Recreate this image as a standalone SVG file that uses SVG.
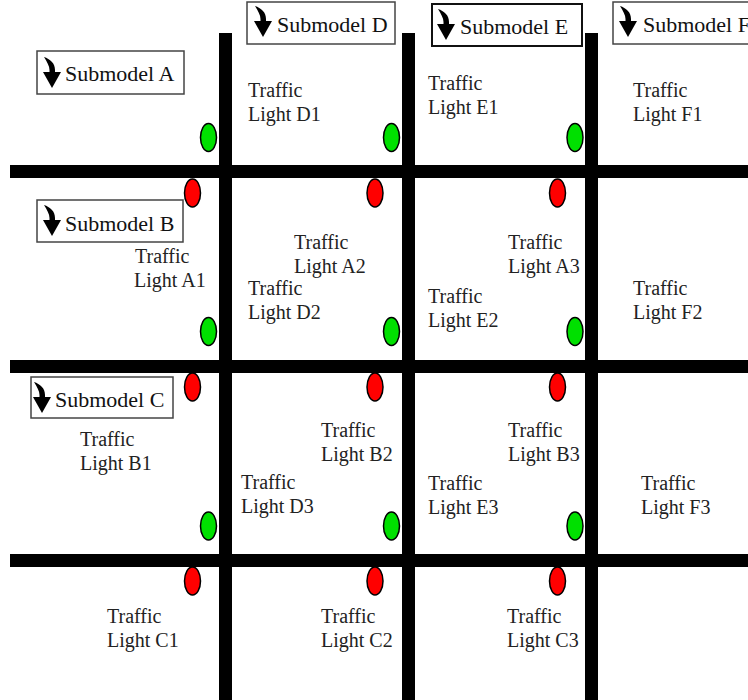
<svg xmlns="http://www.w3.org/2000/svg" width="748" height="700" viewBox="0 0 748 700">
  <style>
    .road { fill: #000; }
    .box { fill: #fff; stroke: #444; stroke-width: 1.5; }
    .box-strong { fill: #fff; stroke: #111; stroke-width: 2; }
    text { font-family: 'Liberation Serif', 'DejaVu Serif', serif; }
    .title { font-size: 22px; fill: #111; }
    .label { font-size: 20px; fill: #222; }
    .go { fill: #00e000; stroke: #000; stroke-width: 1.5; }
    .stop { fill: #ff0000; stroke: #000; stroke-width: 1.5; }
  </style>
  <defs>
    <!-- curved downward arrow used on each submodel tag -->
    <g id="down-arrow">
      <path d="M1,0 C7,2 12,6 12,13 L12,17 L6.5,17 L6.5,13 C6.5,9 4,5 1,0 Z" fill="#000"/>
      <path d="M0,15 L18,15 L9,31 Z" fill="#000"/>
    </g>
  </defs>

  <rect width="748" height="700" fill="#fff"/>

  <!-- road grid -->
  <g id="roads">
    <rect class="road" x="219" y="33" width="13" height="667"/>
    <rect class="road" x="402" y="33" width="13" height="667"/>
    <rect class="road" x="585" y="33" width="13" height="667"/>
    <rect class="road" x="10" y="165" width="738" height="13"/>
    <rect class="road" x="10" y="360" width="738" height="13"/>
    <rect class="road" x="10" y="554" width="738" height="13"/>
  </g>

  <!-- submodel tags -->
  <g id="submodel-a">
    <rect class="box" x="37" y="51" width="147" height="43"/>
    <use href="#down-arrow" x="43" y="57"/>
    <text class="title" x="65" y="81" font-family="Liberation Serif, serif">Submodel A</text>
  </g>
  <g id="submodel-b">
    <rect class="box" x="37" y="200" width="146" height="42"/>
    <use href="#down-arrow" x="43" y="205"/>
    <text class="title" x="65" y="231" font-family="Liberation Serif, serif">Submodel B</text>
  </g>
  <g id="submodel-c">
    <rect class="box" x="31" y="377" width="142" height="41"/>
    <use href="#down-arrow" x="33" y="382"/>
    <text class="title" x="55" y="407" font-family="Liberation Serif, serif">Submodel C</text>
  </g>
  <g id="submodel-d">
    <rect class="box" x="247" y="2" width="148" height="42"/>
    <use href="#down-arrow" x="254" y="6"/>
    <text class="title" x="277" y="32" font-family="Liberation Serif, serif">Submodel D</text>
  </g>
  <g id="submodel-e">
    <rect class="box-strong" x="432" y="4" width="150" height="42"/>
    <use href="#down-arrow" x="437" y="9"/>
    <text class="title" x="460" y="34" font-family="Liberation Serif, serif">Submodel E</text>
  </g>
  <g id="submodel-f">
    <rect class="box" x="613" y="2" width="140" height="42"/>
    <use href="#down-arrow" x="619" y="6"/>
    <text class="title" x="643" y="32" font-family="Liberation Serif, serif">Submodel F</text>
  </g>

  <!-- signal lamps: green before each crossing, red after -->
  <g id="lamps-green">
    <ellipse class="go" cx="208.5" cy="137.5" rx="8" ry="14"/>
    <ellipse class="go" cx="391.5" cy="137.5" rx="8" ry="14"/>
    <ellipse class="go" cx="575" cy="137.5" rx="8" ry="14"/>
    <ellipse class="go" cx="208.5" cy="331.5" rx="8" ry="14"/>
    <ellipse class="go" cx="391.5" cy="331.5" rx="8" ry="14"/>
    <ellipse class="go" cx="575" cy="331.5" rx="8" ry="14"/>
    <ellipse class="go" cx="208.5" cy="526" rx="8" ry="14"/>
    <ellipse class="go" cx="391.5" cy="526" rx="8" ry="14"/>
    <ellipse class="go" cx="575" cy="526" rx="8" ry="14"/>
  </g>
  <g id="lamps-red">
    <ellipse class="stop" cx="192.5" cy="193" rx="8" ry="14"/>
    <ellipse class="stop" cx="375" cy="193" rx="8" ry="14"/>
    <ellipse class="stop" cx="557.5" cy="193" rx="8" ry="14"/>
    <ellipse class="stop" cx="192.5" cy="387" rx="8" ry="14"/>
    <ellipse class="stop" cx="375" cy="387" rx="8" ry="14"/>
    <ellipse class="stop" cx="557.5" cy="387" rx="8" ry="14"/>
    <ellipse class="stop" cx="192.5" cy="581" rx="8" ry="14"/>
    <ellipse class="stop" cx="375" cy="581" rx="8" ry="14"/>
    <ellipse class="stop" cx="557.5" cy="581" rx="8" ry="14"/>
  </g>

  <!-- lamp labels -->
  <g id="labels" font-family="Liberation Serif, serif">
    <g id="label-d1"><text class="label" x="248" y="97">Traffic</text><text class="label" x="248" y="121">Light D1</text></g>
    <g id="label-e1"><text class="label" x="428" y="90">Traffic</text><text class="label" x="428" y="114">Light E1</text></g>
    <g id="label-f1"><text class="label" x="633" y="97">Traffic</text><text class="label" x="633" y="121">Light F1</text></g>

    <g id="label-a1"><text class="label" x="135" y="263">Traffic</text><text class="label" x="134" y="287">Light A1</text></g>
    <g id="label-a2"><text class="label" x="294" y="249">Traffic</text><text class="label" x="294" y="273">Light A2</text></g>
    <g id="label-a3"><text class="label" x="508" y="249">Traffic</text><text class="label" x="508" y="273">Light A3</text></g>
    <g id="label-d2"><text class="label" x="248" y="295">Traffic</text><text class="label" x="248" y="319">Light D2</text></g>
    <g id="label-e2"><text class="label" x="428" y="303">Traffic</text><text class="label" x="428" y="327">Light E2</text></g>
    <g id="label-f2"><text class="label" x="633" y="295">Traffic</text><text class="label" x="633" y="319">Light F2</text></g>

    <g id="label-b1"><text class="label" x="80" y="446">Traffic</text><text class="label" x="80" y="470">Light B1</text></g>
    <g id="label-b2"><text class="label" x="321" y="437">Traffic</text><text class="label" x="321" y="461">Light B2</text></g>
    <g id="label-b3"><text class="label" x="508" y="437">Traffic</text><text class="label" x="508" y="461">Light B3</text></g>
    <g id="label-d3"><text class="label" x="241" y="489">Traffic</text><text class="label" x="241" y="513">Light D3</text></g>
    <g id="label-e3"><text class="label" x="428" y="490">Traffic</text><text class="label" x="428" y="514">Light E3</text></g>
    <g id="label-f3"><text class="label" x="641" y="490">Traffic</text><text class="label" x="641" y="514">Light F3</text></g>

    <g id="label-c1"><text class="label" x="107" y="623">Traffic</text><text class="label" x="107" y="647">Light C1</text></g>
    <g id="label-c2"><text class="label" x="321" y="623">Traffic</text><text class="label" x="321" y="647">Light C2</text></g>
    <g id="label-c3"><text class="label" x="507" y="623">Traffic</text><text class="label" x="507" y="647">Light C3</text></g>
  </g>
</svg>
